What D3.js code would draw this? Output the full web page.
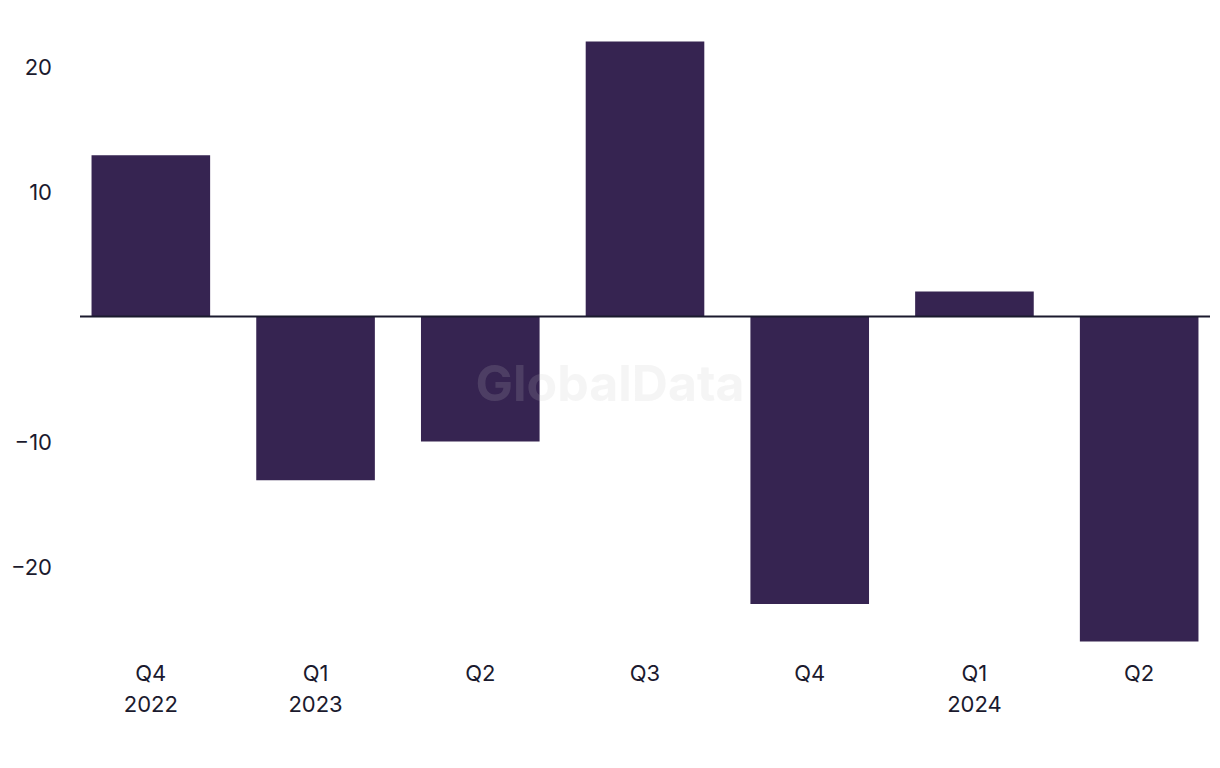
<!DOCTYPE html>
<html><head><meta charset="utf-8">
<script src="https://cdn.jsdelivr.net/npm/d3@7"></script>
<style>body{margin:0;background:#fff}svg{display:block}text{font-family:Inter,"Liberation Sans",Arial,sans-serif}</style>
</head><body>
<svg id="c" width="1220" height="768"></svg>
<script>
const quarters = ["Q4","Q1","Q2","Q3","Q4","Q1","Q2"];
const years = ["2022","2023","","","","2024",""];
const values = [12.9, -13.1, -10.0, 22.0, -23.0, 2.0, -26.0];
const yTicks = [-20, -10, 10, 20];

const svg = d3.select("#c");
const ids = quarters.map((q,i)=>i);
const x = d3.scaleBand().domain(ids).range([80,1210]).paddingInner(0.28).paddingOuter(0.07);
const y = d3.scaleLinear().domain([-27,24]).range([654,16.5]);
const ink = "#1b1a2e";

const yAxis = d3.axisLeft(y).tickValues(yTicks).tickSize(0).tickPadding(0)
  .tickFormat(d => d < 0 ? "\u2212" + Math.abs(d) : String(d));
const ga = svg.append("g").attr("transform","translate(52,0)").call(yAxis);
ga.select(".domain").remove();
ga.selectAll("text").attr("font-size",22).attr("fill",ink).attr("dy","0.35em");

svg.append("g").selectAll("rect").data(values).join("rect")
  .attr("x",(d,i)=>x(i)).attr("width",x.bandwidth())
  .attr("y",d=>y(Math.max(0,d))).attr("height",d=>Math.abs(y(d)-y(0)))
  .attr("fill","#362451");

svg.append("line").attr("x1",80).attr("x2",1210).attr("y1",y(0)).attr("y2",y(0))
  .attr("stroke",ink).attr("stroke-width",2);

const xl = svg.append("g");
ids.forEach(i=>{
  const cx = x(i)+x.bandwidth()/2;
  const t = xl.append("text").attr("x",cx).attr("y",681).attr("text-anchor","middle")
    .attr("font-size",22).attr("fill",ink);
  t.append("tspan").attr("x",cx).text(quarters[i]);
  if (years[i]) t.append("tspan").attr("x",cx).attr("dy",31).text(years[i]);
});

svg.append("text").attr("x",610).attr("y",401).attr("text-anchor","middle")
  .attr("font-size",50).attr("font-weight","bold").attr("fill","rgb(196,196,196)")
  .attr("fill-opacity",0.17).text("GlobalData");
</script>
</body></html>
